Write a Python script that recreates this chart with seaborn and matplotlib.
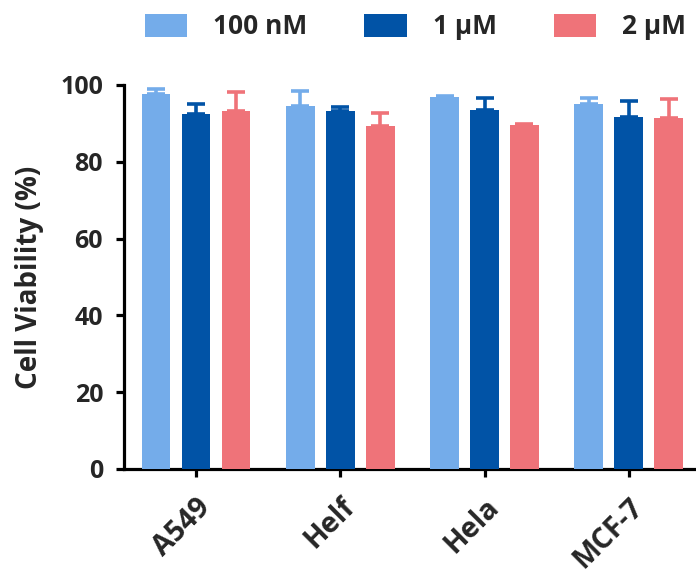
import numpy as np
import pandas as pd
import matplotlib
matplotlib.use('Agg')
import matplotlib.pyplot as plt
import seaborn as sns

# Data
cells = ['A549', 'Helf', 'Hela', 'MCF-7']
doses = ['100 nM', '1 µM', '2 µM']
viab_100nM = [97.7, 94.6, 96.8, 95.1]
viab_1uM = [92.4, 93.3, 93.5, 91.6]
viab_2uM = [93.1, 89.4, 89.6, 91.4]
err_100nM = [1.3, 3.9, 0.3, 1.4]
err_1uM = [2.6, 1.0, 3.2, 4.2]
err_2uM = [5.0, 3.4, 0.3, 5.0]

colors = ['#74ACEA', '#0153A6', '#EF7379']

means = [viab_100nM, viab_1uM, viab_2uM]
errs = [err_100nM, err_1uM, err_2uM]
df = pd.DataFrame({
    'cell': np.tile(cells, len(doses)),
    'dose': np.repeat(doses, len(cells)),
    'viability': np.concatenate(means),
})

sns.set_style('white')
plt.rcParams['font.family'] = ['Open Sans', 'DejaVu Sans']
plt.rcParams['font.weight'] = 'bold'

fig = plt.figure(figsize=(6.96, 5.74), dpi=100)
ax = fig.add_axes([0.178, 0.183, 0.829, 0.669])

sns.barplot(data=df, x='cell', y='viability', hue='dose', order=cells,
            hue_order=doses, palette=colors, errorbar=None,
            width=0.83, gap=0.28, saturation=1, linewidth=0, ax=ax, zorder=3)

# upward-only error bars, same colour as the bar
for cont, err, col in zip(ax.containers, errs, colors):
    for bar, e in zip(cont, err):
        xc = bar.get_x() + bar.get_width() / 2
        ax.errorbar(xc, bar.get_height(), yerr=[[0], [e]], fmt='none',
                    ecolor=col, elinewidth=2.6, capsize=6.5, capthick=2.6, zorder=2)

ax.set_ylim(0, 100)
ax.set_xlim(-0.5, 3.5)
ax.set_yticks([0, 20, 40, 60, 80, 100])
ax.set_xlabel('')
ax.set_ylabel('Cell Viability (%)', fontsize=20, fontweight='bold', labelpad=12)

for s in ['top', 'right']:
    ax.spines[s].set_visible(False)
for s in ['left', 'bottom']:
    ax.spines[s].set_linewidth(2.3)
    ax.spines[s].set_color('black')
ax.tick_params(axis='both', direction='out', length=6, width=2.3, color='black',
               labelsize=18, left=True, bottom=True)
ax.tick_params(axis='y', pad=9)
ax.tick_params(axis='x', labelsize=20.5, pad=11)
plt.setp(ax.get_xticklabels(), rotation=45, ha='right', rotation_mode='anchor',
         fontweight='bold')
plt.setp(ax.get_yticklabels(), fontweight='bold')

sns.move_legend(ax, 'center', bbox_to_anchor=(0.597, 0.953),
                bbox_transform=fig.transFigure, ncol=3, frameon=False, title=None,
                fontsize=19, handlelength=1.6, handleheight=1.0,
                columnspacing=2.15, handletextpad=1.0)
for t in ax.get_legend().get_texts():
    t.set_fontweight('bold')

fig.savefig('out.png', dpi=100)
